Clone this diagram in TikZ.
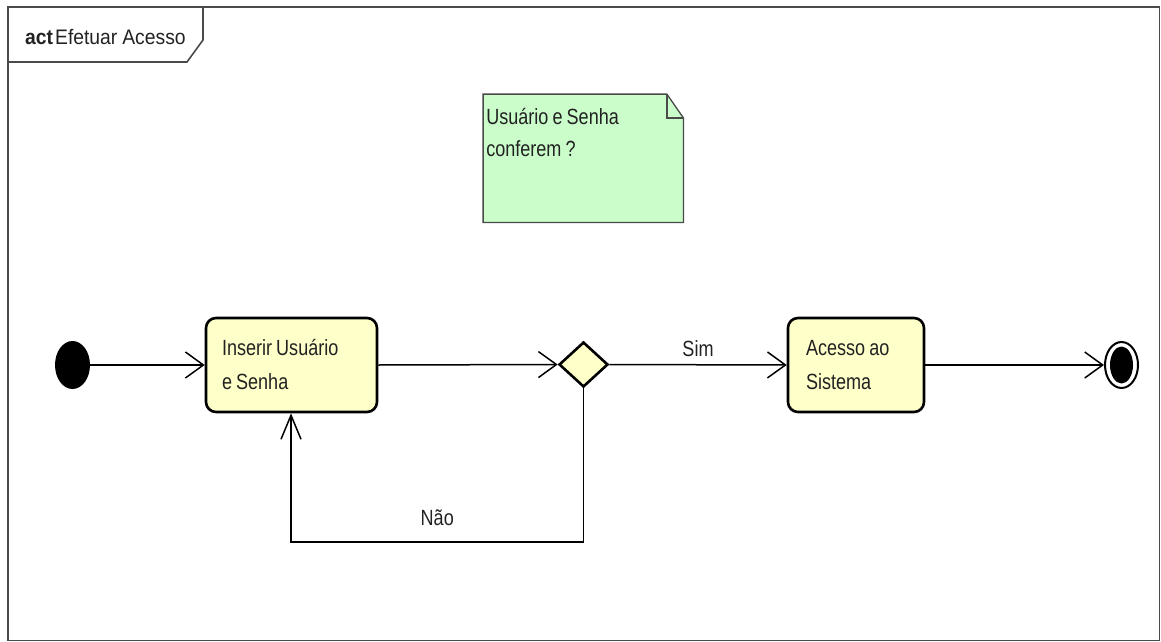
\documentclass[tikz,border=0pt]{standalone}
\usepackage{fontspec}
\setmainfont[FakeStretch=0.82, WordSpace=0.82]{Liberation Sans}
\newfontfamily\titlefont[FakeStretch=0.92, WordSpace=0.92]{Liberation Sans}
\usetikzlibrary{shapes.geometric,arrows.meta,calc}
\definecolor{actfill}{HTML}{FFFFCA}
\definecolor{notefill}{HTML}{CAFDCA}
\definecolor{framegray}{HTML}{4A4A4A}
\definecolor{inkgray}{HTML}{222222}
\begin{document}
\begin{tikzpicture}[x=1pt,y=-1pt,
  every node/.style={font=\fontsize{22}{34}\selectfont, text=inkgray},
  action/.style={draw=black, line width=2.6, rounded corners=10, fill=actfill,
    minimum height=94, inner sep=0, align=flush left},
  decision/.style={diamond, draw=black, line width=2.6, fill=actfill,
    minimum width=49, minimum height=45, inner sep=0},
  startnode/.style={ellipse, fill=black, minimum width=35, minimum height=48, inner sep=0},
  endouter/.style={ellipse, draw=black, line width=2, fill=white, minimum width=33, minimum height=46, inner sep=0},
  endinner/.style={ellipse, fill=black, minimum width=23, minimum height=37, inner sep=0},
  flow/.style={line width=1.5, draw=black, -{Straight Barb[length=18, width=26]}},
  flowup/.style={line width=1.5, draw=black, -{Straight Barb[length=24, width=20]}},
  framepen/.style={line width=1.6, draw=framegray}
]
\useasboundingbox (0,0) rectangle (1161,642);

% diagram frame and its name tag
\draw[framepen] (8,7) rectangle (1159.5,640.5);
\draw[framepen] (8,7) -- (203,7) -- (203,40) -- (187,62) -- (8,62);
\node[anchor=base west, inner sep=0, font=\titlefont\fontsize{21}{30}\selectfont] (title) at (25,45)
  {\textbf{act}\kern2pt Efetuar Acesso};

% comment note with folded corner
\node[minimum width=200, minimum height=128, inner sep=0] (note) at (583.3,158.3) {};
\draw[line width=1.3, draw=framegray, fill=notefill]
  (note.north west) -- ($(note.north east)+(-16.6,0)$) -- ($(note.north east)+(0,24)$)
  -- (note.south east) -- (note.south west) -- cycle;
\draw[line width=1.3, draw=framegray]
  ($(note.north east)+(-16.6,0)$) -- ($(note.north east)+(-16.6,24)$) -- ($(note.north east)+(0,24)$);
\node[anchor=north west, align=left, inner sep=0, font=\fontsize{22}{32}\selectfont]
  (notetext) at ($(note.north west)+(3,14)$) {Usuário e Senha\\conferem ?};

% activity nodes
\node[startnode] (init) at (72.5,365) {};
\node[action, minimum width=171, text width=139] (act1) at (291.5,365) {Inserir Usuário\\e Senha};
\node[decision] (dec) at (583.5,364.5) {};
\node[action, minimum width=136, text width=100] (act2) at (856,365) {Acesso ao\\Sistema};
\node[endouter] (final) at (1121.5,365) {};
\node[endinner] (finalin) at (1121.5,365) {};

% control flows
\draw[flow] (init.east) -- (act1.west);
\draw[flow] (act1.east) -- (dec.west);
\draw[flow] (dec.east) -- node[above=4, inner sep=3.3] (sim) {Sim} (act2.west);
\draw[flow] (act2.east) -- (final.west);

\coordinate (loopR) at (583.5,542);
\coordinate (loopL) at (291,542);
\draw[flowup] (dec.south) -- (loopR) -- node[above=12, inner sep=3.3] (nao) {Não} (loopL) -- (loopL |- act1.south);
\end{tikzpicture}
\end{document}
